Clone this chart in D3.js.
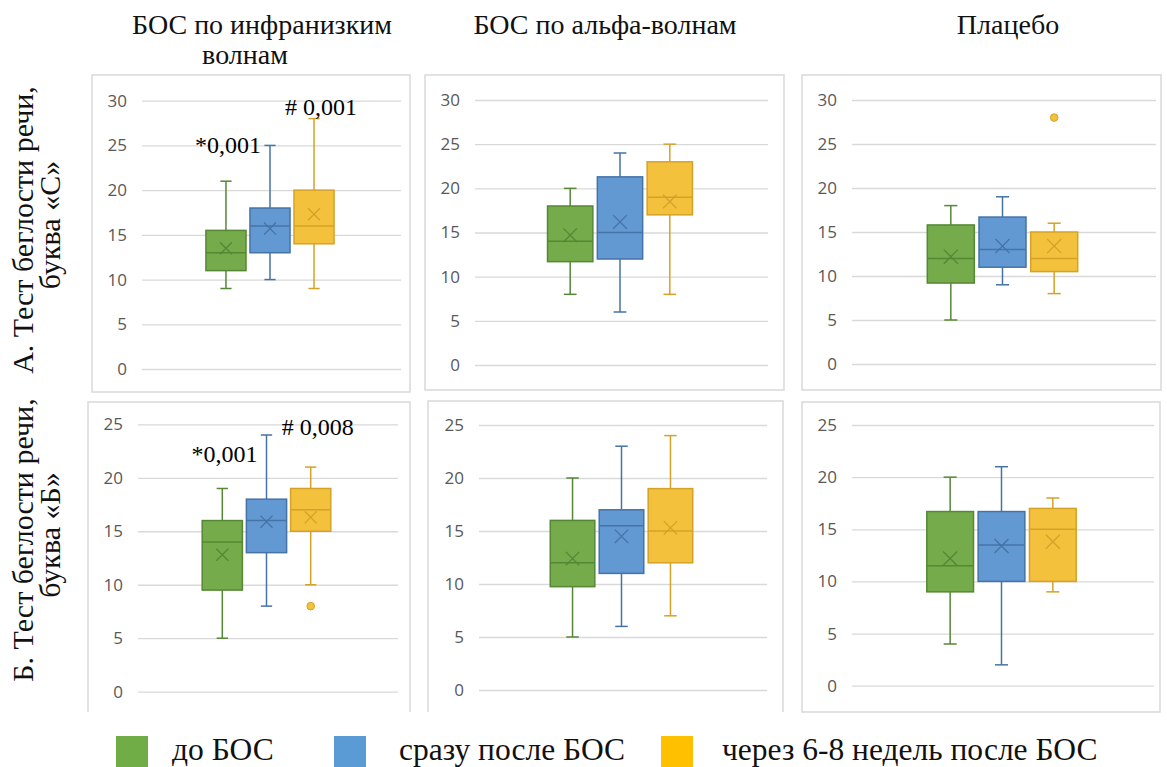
<!DOCTYPE html>
<html>
<head>
<meta charset="utf-8">
<script src="https://cdn.jsdelivr.net/npm/d3@7"></script>
<style>
  body { margin: 0; background: #fff; }
  svg { display: block; }
</style>
</head>
<body>
<div id="grafico"></div>
<script>
// группы и серии
const grupos = ["БОС по инфранизким волнам", "БОС по альфа-волнам", "Плацебо"];
const series = ["до БОС", "сразу после БОС", "через 6-8 недель после БОС"];
const linhas = [
  ["А. Тест беглости речи,", "буква «С»"],
  ["Б. Тест беглости речи,", "буква «Б»"]
];
const ticksC = [0, 5, 10, 15, 20, 25, 30];
const ticksB = [0, 5, 10, 15, 20, 25];

// буква «С»: [группа][серия]
const minC   = [[9, 10, 9], [8, 6, 8], [5, 9, 8]];
const q1C    = [[11, 13, 14], [11.7, 12, 17], [9.2, 11, 10.5]];
const medC   = [[13, 16, 16], [14, 15, 19], [12, 13, 12]];
const q3C    = [[15.5, 18, 20], [18, 21.3, 23], [15.8, 16.7, 15]];
const maxC   = [[21, 25, 28], [20, 24, 25], [18, 19, 16]];
const meanC  = [[13.5, 15.7, 17.3], [14.7, 16.2, 18.5], [12.2, 13.4, 13.4]];
const outC   = [[[], [], []], [[], [], []], [[], [], [28]]];

// буква «Б»
const minB   = [[5, 8, 10], [5, 6, 7], [4, 2, 9]];
const q1B    = [[9.5, 13, 15], [9.75, 11, 12], [9, 10, 10]];
const medB   = [[14, 16, 17], [12, 15.5, 15], [11.5, 13.5, 15]];
const q3B    = [[16, 18, 19], [16, 17, 19], [16.7, 16.7, 17]];
const maxB   = [[19, 24, 21], [20, 23, 24], [20, 21, 18]];
const meanB  = [[12.8, 15.9, 16.3], [12.4, 14.5, 15.3], [12.2, 13.4, 13.8]];
const outB   = [[[], [], [8]], [[], [], []], [[], [], []]];

// p-значения: [строка, группа, текст, серия, значение]
const notas = [
  [0, 0, "*0,001", 1, 24.1],
  [0, 0, "# 0,001", 2, 28.4],
  [1, 0, "*0,001", 1, 21.5],
  [1, 0, "# 0,008", 2, 24.0]
];

const fill = ["#75ab4a", "#6399d3", "#f4c13c"];
const stroke = ["#558735", "#4573a6", "#d4a229"];
const legendFill = ["#70ad47", "#5b9bd5", "#ffc000"];
const serif = "'Liberation Serif', 'Times New Roman', serif";

const width = 1167, height = 767;

// рамки и области построения
const paineis = [
  { frame: [92, 75, 410, 392], plot: [142, 100.7, 401, 369], open: false },
  { frame: [425, 75, 784, 390], plot: [475, 100, 768, 365], open: false },
  { frame: [802, 75, 1161, 390], plot: [852, 100, 1156, 364], open: false },
  { frame: [88, 402, 410, 712], plot: [138, 424.3, 398, 691.7], open: true },
  { frame: [428, 401, 783, 712], plot: [479, 425, 767, 690], open: true },
  { frame: [802, 402, 1160, 712], plot: [852, 425, 1154, 685.7], open: false }
];

const svg = d3.select("#grafico")
  .append("svg")
  .attr("width", width)
  .attr("height", height);

svg.append("rect").attr("width", width).attr("height", height).attr("fill", "#fff");

const dados = [
  { min: minC, q1: q1C, med: medC, q3: q3C, max: maxC, mean: meanC, out: outC, ticks: ticksC },
  { min: minB, q1: q1B, med: medB, q3: q3B, max: maxB, mean: meanB, out: outB, ticks: ticksB }
];

dados.forEach((d, r) => {
  grupos.forEach((g, c) => {
    const p = paineis[r * 3 + c];
    desenharPainel(p, d, c, r);
  });
});

function desenharPainel(p, d, c, r) {
  const [fx0, fy0, fx1, fy1] = p.frame;
  const [px0, py0, px1, py1] = p.plot;

  // рамка
  if (p.open) {
    svg.append("path")
      .attr("d", `M${fx0},${fy1}V${fy0}H${fx1}V${fy1}`)
      .attr("fill", "none").attr("stroke", "#d9d9d9").attr("stroke-width", 1.5);
  } else {
    svg.append("rect")
      .attr("x", fx0).attr("y", fy0)
      .attr("width", fx1 - fx0).attr("height", fy1 - fy0)
      .attr("fill", "none").attr("stroke", "#d9d9d9").attr("stroke-width", 1.5);
  }

  const y = d3.scaleLinear().domain([0, d3.max(d.ticks)]).range([py1, py0]);

  const eixo = svg.append("g")
    .attr("transform", `translate(${px0},0)`)
    .call(d3.axisLeft(y).tickValues(d.ticks).tickSize(-(px1 - px0)).tickPadding(15));
  eixo.select(".domain").remove();
  eixo.selectAll("line").attr("stroke", "#d9d9d9").attr("stroke-width", 1.3);
  eixo.selectAll("text")
    .attr("fill", "#595959")
    .style("font-family", "'Open Sans', sans-serif")
    .style("font-size", "17px");

  const w = px1 - px0;
  const step = 0.17 * w;
  const cx = (px0 + px1) / 2 - 1.5;
  const x = d3.scaleBand()
    .domain(series)
    .range([cx - 1.5 * step, cx + 1.5 * step])
    .paddingInner(0.09)
    .paddingOuter(0.045);
  const bw = x.bandwidth();

  series.forEach((s, i) => {
    const g = svg.append("g");
    const xc = x(s) + bw / 2;
    const cor = stroke[i];
    const cap = bw * 0.14;

    // усы
    g.append("line").attr("x1", xc).attr("x2", xc)
      .attr("y1", y(d.max[c][i])).attr("y2", y(d.q3[c][i]))
      .attr("stroke", cor).attr("stroke-width", 1.5);
    g.append("line").attr("x1", xc).attr("x2", xc)
      .attr("y1", y(d.q1[c][i])).attr("y2", y(d.min[c][i]))
      .attr("stroke", cor).attr("stroke-width", 1.5);
    [d.max[c][i], d.min[c][i]].forEach((v) => {
      g.append("line").attr("x1", xc - cap).attr("x2", xc + cap)
        .attr("y1", y(v)).attr("y2", y(v))
        .attr("stroke", cor).attr("stroke-width", 1.5);
    });

    // ящик
    g.append("rect")
      .attr("x", x(s)).attr("y", y(d.q3[c][i]))
      .attr("width", bw).attr("height", y(d.q1[c][i]) - y(d.q3[c][i]))
      .attr("fill", fill[i]).attr("stroke", cor).attr("stroke-width", 1.5);

    // медиана
    g.append("line").attr("x1", x(s)).attr("x2", x(s) + bw)
      .attr("y1", y(d.med[c][i])).attr("y2", y(d.med[c][i]))
      .attr("stroke", cor).attr("stroke-width", 1.5);

    // среднее (крестик)
    const m = bw * 0.15, ym = y(d.mean[c][i]);
    g.append("path")
      .attr("d", `M${xc - m},${ym - m}L${xc + m},${ym + m}M${xc - m},${ym + m}L${xc + m},${ym - m}`)
      .attr("stroke", cor).attr("stroke-width", 1.3).attr("fill", "none");

    // выбросы
    d.out[c][i].forEach((v) => {
      g.append("circle").attr("cx", xc).attr("cy", y(v)).attr("r", 3.8)
        .attr("fill", fill[i]).attr("stroke", cor).attr("stroke-width", 1);
    });
  });

  // p-значения
  notas.filter((n) => n[0] === r && n[1] === c).forEach((n) => {
    const xc = x(series[n[3]]) + bw / 2;
    const isStar = n[2].startsWith("*");
    svg.append("text")
      .attr("x", isStar ? xc - 9 : xc - 29)
      .attr("y", y(n[4]))
      .attr("text-anchor", isStar ? "end" : "start")
      .style("font-family", serif)
      .style("font-size", "24px")
      .attr("fill", "#000")
      .text(n[2]);
  });
}

// заголовки колонок
const titulos = [
  { linhas: ["БОС по инфранизким", "волнам"], x: [262, 245] },
  { linhas: ["БОС по альфа-волнам"], x: [605] },
  { linhas: ["Плацебо"], x: [1008] }
];
titulos.forEach((t) => {
  t.linhas.forEach((l, k) => {
    svg.append("text")
      .attr("x", t.x[k]).attr("y", 34 + k * 30)
      .attr("text-anchor", "middle")
      .style("font-family", serif)
      .style("font-size", "28px")
      .attr("fill", "#111")
      .text(l);
  });
});

// подписи строк (вертикальные)
const centrosLinha = [230, 540];
linhas.forEach((l, r) => {
  l.forEach((txt, k) => {
    svg.append("text")
      .attr("transform", `translate(${33 + k * 27},${centrosLinha[r] - k * 5}) rotate(-90)`)
      .attr("text-anchor", "middle")
      .style("font-family", serif)
      .style("font-size", "30px")
      .attr("fill", "#111")
      .text(txt);
  });
});

// легенда
const legX = [116, 334, 661];
const legTextX = [172, 399, 722];
const legenda = svg.append("g");
series.forEach((s, i) => {
  legenda.append("rect")
    .attr("x", legX[i]).attr("y", 736)
    .attr("width", 32).attr("height", 31)
    .attr("fill", legendFill[i]);
  legenda.append("text")
    .attr("x", legTextX[i]).attr("y", 760)
    .style("font-family", serif)
    .style("font-size", "31.5px")
    .attr("fill", "#111")
    .text(s);
});
</script>
</body>
</html>
